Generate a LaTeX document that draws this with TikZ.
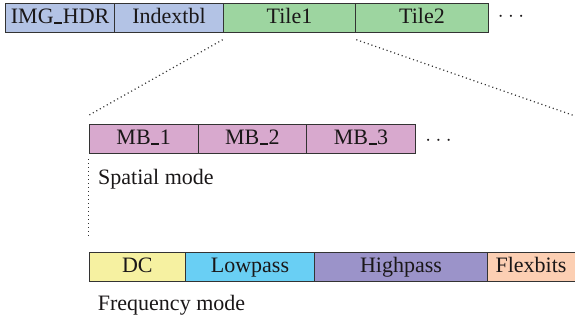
\documentclass[tikz,border=0pt]{standalone}
\usepackage{fontspec}
\setmainfont{Liberation Serif}
\definecolor{hdrc}{HTML}{B3C3E5}
\definecolor{tilec}{HTML}{9DD5A0}
\definecolor{mbc}{HTML}{D8A9CE}
\definecolor{dcc}{HTML}{F6F1A1}
\definecolor{lowc}{HTML}{69CFF4}
\definecolor{highc}{HTML}{9B93C9}
\definecolor{flexc}{HTML}{FCCFB3}
\definecolor{edgec}{HTML}{333333}
\definecolor{txtc}{HTML}{1A1718}
\newcommand{\us}{\kern0.03em\rule[-0.01em]{0.36em}{0.09em}\kern0.03em}
\begin{document}
\begin{tikzpicture}[x=1pt,y=-1pt,
  every node/.style={font=\fontsize{22}{25}\selectfont, text=txtc},
  cell/.style={draw=edgec, line width=1pt, inner sep=0pt, anchor=north west,
    minimum height=28.5pt, text height=15pt, text depth=3.6pt},
  dotline/.style={draw=edgec, line width=1.2pt, dash pattern=on 1.1pt off 2.9pt},
  ell/.style={inner sep=0pt, anchor=center},
  lbl/.style={inner sep=0pt, anchor=base west}]
\useasboundingbox (0,0) rectangle (575,320);
\clip (0,0) rectangle (575,320);
% top row
\node[cell, fill=hdrc, minimum width=109.3pt] (hdr) at (5,3.2) {IMG\us HDR};
\node[cell, fill=hdrc, minimum width=108.4pt] (idx) at (114.3,3.2) {Indextbl};
\node[cell, fill=tilec, minimum width=132.6pt] (t1) at (222.7,3.2) {Tile1};
\node[cell, fill=tilec, minimum width=132.4pt] (t2) at (355.3,3.2) {Tile2};
\node[ell] (dots1) at (511,16.5) {$\cdot\cdot\cdot$};
% MB row
\node[cell, fill=mbc, minimum width=109pt] (mb1) at (88.7,124.3) {MB\us 1};
\node[cell, fill=mbc, minimum width=108.3pt] (mb2) at (197.7,124.3) {MB\us 2};
\node[cell, fill=mbc, minimum width=109pt] (mb3) at (306,124.3) {MB\us 3};
\node[ell] (dots2) at (438.5,141) {$\cdot\cdot\cdot$};
\node[lbl] (spat) at (98,185) {Spatial mode};
% frequency row
\node[cell, fill=dcc, minimum width=96.3pt] (dc) at (88.7,252.3) {DC};
\node[cell, fill=lowc, minimum width=129pt] (low) at (185,252.3) {Lowpass};
\node[cell, fill=highc, minimum width=173pt] (high) at (314,252.3) {Highpass};
\node[cell, fill=flexc, minimum width=120pt] (flex) at (487,252.3) {\hspace*{-33pt}Flexbits};
\node[lbl] (freq) at (97.7,310.5) {Frequency mode};
% dotted connectors
\coordinate (a1) at ([yshift=-7pt]t1.south west);
\coordinate (a2) at ([yshift=-7pt]t1.south east);
\coordinate (b1) at ([yshift=9pt]mb1.north west);
\coordinate (b2) at (578,117);
\coordinate (c1) at ([yshift=-5pt]mb1.south west);
\coordinate (c2) at ([yshift=14pt]dc.north west);
\draw[dotline] (a1) -- (b1);
\draw[dotline] (a2) -- (b2);
\draw[dotline] (c1) -- (c2);
\end{tikzpicture}
\end{document}
